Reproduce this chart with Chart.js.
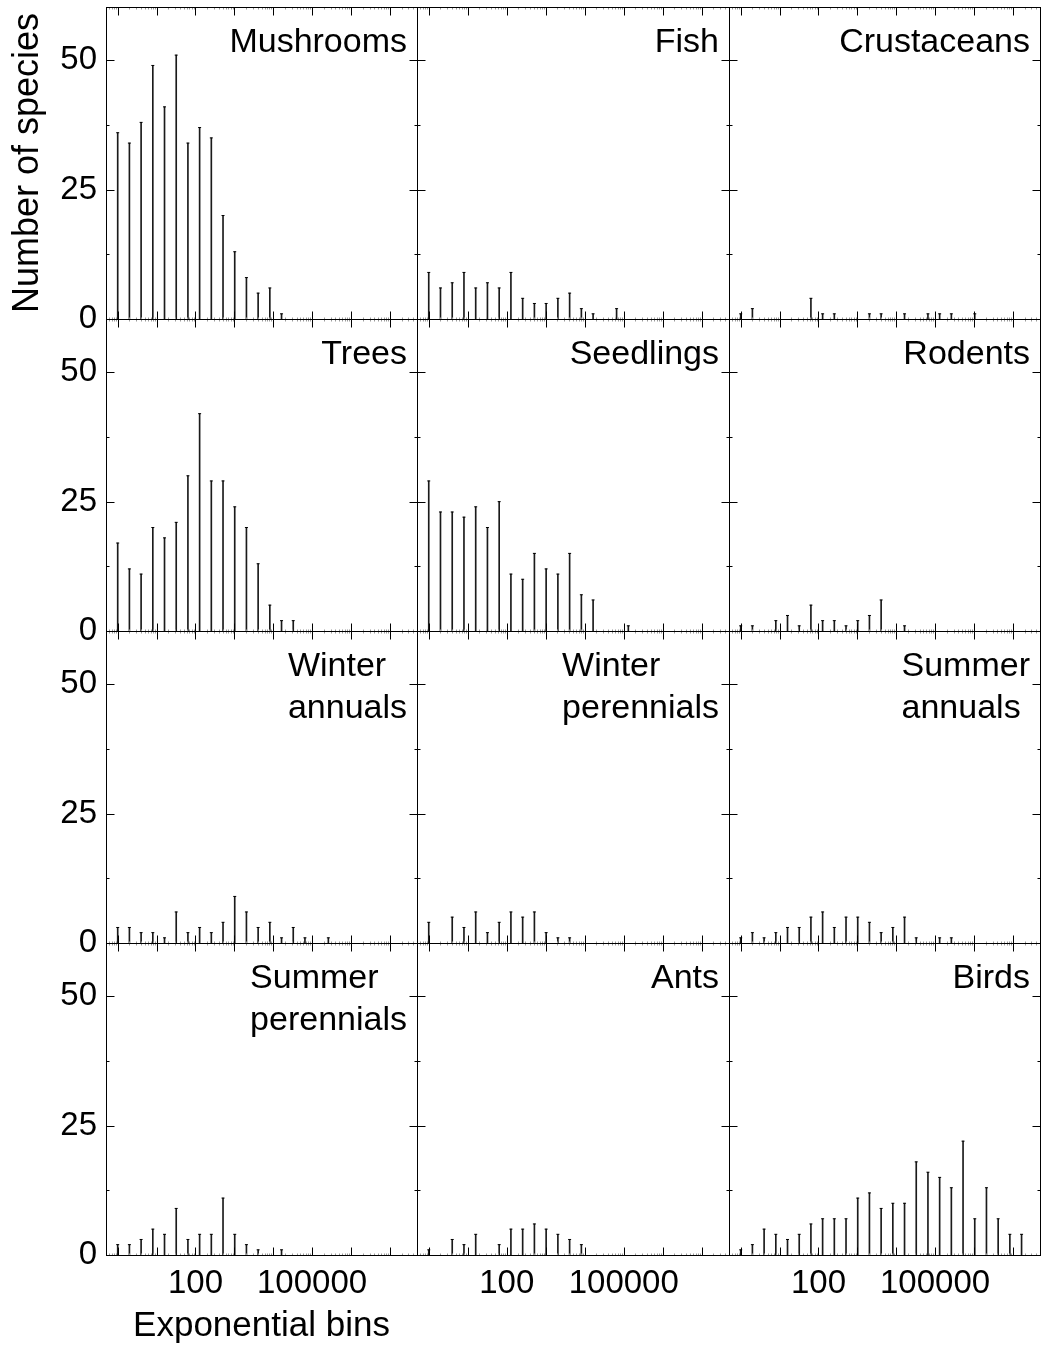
<!DOCTYPE html>
<html><head><meta charset="utf-8">
<script src="https://cdn.jsdelivr.net/npm/chart.js@4.4.1/dist/chart.umd.min.js"></script>
<style>
html,body{margin:0;padding:0;background:#fff;}
body{width:1041px;height:1346px;position:relative;overflow:hidden;}
canvas{position:absolute;}
</style></head><body>
<script>
// Exponential bins (powers of two)
const bins = [1,2,4,8,16,32,64,128,256,512,1024,2048,4096,8192,16384,32768,65536,131072,262144,524288,1048576,2097152,4194304,8388608,16777216];

// Number of species per bin, index = bin position
const mushrooms        = [36,34,38,49,41,51,34,37,35,20,13,8,5,6,1];
const fish             = [9,6,7,9,6,7,6,9,4,3,3,4,5,2,1,0,2];
const crustaceans      = [1,2,0,0,0,0,4,1,1,0,0,1,1,0,1,0,1,1,1,0,1];
const trees            = [17,12,11,20,18,21,30,42,29,29,24,20,13,5,2,2];
const seedlings        = [29,23,23,22,24,20,25,11,10,15,12,11,15,7,6,0,0,1];
const rodents          = [1,1,0,2,3,1,5,2,2,1,2,3,6,0,1];
const winterAnnuals    = [3,3,2,2,1,6,2,3,2,4,9,6,3,4,1,3,1,0,1];
const winterPerennials = [4,0,5,3,6,2,4,6,5,6,2,1,1];
const summerAnnuals    = [1,2,1,2,3,3,5,6,3,5,5,4,2,3,5,1,0,1,1];
const summerPerennials = [2,2,3,5,4,9,3,4,4,11,4,2,1,0,1];
const ants             = [1,0,3,2,4,0,2,5,5,6,5,4,3,2];
const birds            = [1,2,5,4,3,4,6,7,7,7,11,12,9,10,10,18,16,15,13,22,7,13,7,4,4];

const panelSeries = [mushrooms, fish, crustaceans, trees, seedlings, rodents,
                     winterAnnuals, winterPerennials, summerAnnuals, summerPerennials, ants, birds];
const panelNames = [['Mushrooms'],['Fish'],['Crustaceans'],['Trees'],['Seedlings'],['Rodents'],
                    ['Winter','annuals'],['Winter','perennials'],['Summer','annuals'],
                    ['Summer','perennials'],['Ants'],['Birds']];

const xTickValues = [1,10,100,1000,10000,100000,1000000,10000000];
const xTickLabels = {100:'100', 100000:'100000'};
const yTickValues = [0,12.5,25,37.5,50];
const yTickLabels = {0:'0', 25:'25', 50:'50'};
const yAxisTitle = 'Number of species';
const xAxisTitle = 'Exponential bins';

const FONT = '"Liberation Sans", Arial, sans-serif';
const colLeft = [106, 417, 729];
const colWidth = [311, 312, 311];
const rowTop = [7, 319, 631, 943];
const rowHeight = 312;

const framePlugin = {
  id: 'frame',
  afterDraw(chart, args, opts) {
    const {ctx, chartArea} = chart;
    const xs = chart.scales.x, ys = chart.scales.y;
    const l = Math.round(chartArea.left) + 0.5, r = Math.round(chartArea.right) + 0.5;
    const t = Math.round(chartArea.top) + 0.5, b = Math.round(chartArea.bottom) + 0.5;
    ctx.save();
    ctx.lineWidth = 1;
    // minor log ticks (faint)
    ctx.strokeStyle = '#9a9a9a';
    ctx.beginPath();
    for (let e = -1; e <= 7; e++) {
      for (let m = 2; m <= 9; m++) {
        const v = m * Math.pow(10, e);
        if (v < xs.min || v > xs.max) continue;
        const p = Math.round(xs.getPixelForValue(v)) + 0.5;
        ctx.moveTo(p, b); ctx.lineTo(p, b - 2);
        ctx.moveTo(p, t); ctx.lineTo(p, t + 2);
      }
    }
    ctx.stroke();
    ctx.strokeStyle = '#000';
    ctx.beginPath();
    xTickValues.forEach(v => {
      const p = Math.round(xs.getPixelForValue(v)) + 0.5;
      ctx.moveTo(p, b); ctx.lineTo(p, b - 8);
      ctx.moveTo(p, t); ctx.lineTo(p, t + 8);
    });
    yTickValues.forEach(v => {
      const p = Math.round(ys.getPixelForValue(v)) + 0.5;
      const len = (v % 25 === 0) ? 8 : 3;
      ctx.moveTo(l, p); ctx.lineTo(l + len, p);
      ctx.moveTo(r, p); ctx.lineTo(r - len, p);
    });
    ctx.stroke();
    ctx.strokeRect(l, t, r - l, b - t);
    const lines = opts.lines || [];
    ctx.fillStyle = '#000';
    ctx.font = '34px ' + FONT;
    ctx.textAlign = 'left';
    ctx.textBaseline = 'alphabetic';
    let maxW = 0;
    lines.forEach(s => { maxW = Math.max(maxW, ctx.measureText(s).width); });
    const x0 = chartArea.right - 10 - maxW;
    lines.forEach((s, i) => ctx.fillText(s, x0, chartArea.top + 45 + i * 42));
    ctx.restore();
  }
};

for (let r = 0; r < 4; r++) {
  for (let c = 0; c < 3; c++) {
    const idx = r * 3 + c;
    const PL = c === 0 ? 106 : 12;
    const PR = 12, PT = 30;
    const PB = r === 3 ? (1346 - (rowTop[3] + rowHeight)) : 30;
    const showY = c === 0, showX = r === 3;
    const cv = document.createElement('canvas');
    const w = colWidth[c] + PL + PR, h = rowHeight + PT + PB;
    cv.width = w; cv.height = h;
    cv.style.width = w + 'px'; cv.style.height = h + 'px';
    cv.style.left = (colLeft[c] - PL) + 'px';
    cv.style.top = (rowTop[r] - PT) + 'px';
    document.body.appendChild(cv);

    const series = panelSeries[idx];
    const pts = [];
    series.forEach((v, k) => { if (v > 0) pts.push({x: bins[k], y: v}); });

    new Chart(cv.getContext('2d'), {
      type: 'bar',
      data: {
        datasets: [
          {type: 'bar', data: pts, backgroundColor: '#1a1a1a', borderWidth: 0, barThickness: 1, order: 2},
          {type: 'line', data: pts, showLine: false, pointStyle: 'line', pointRadius: 1.5,
           pointBorderColor: '#000', pointBorderWidth: 1, pointBackgroundColor: '#000', order: 1}
        ]
      },
      options: {
        responsive: false,
        animation: false,
        devicePixelRatio: 1,
        layout: {padding: {left: showY ? 0 : PL, right: PR, top: PT, bottom: showX ? 0 : PB}},
        plugins: {legend: {display: false}, tooltip: {enabled: false}, frame: {lines: panelNames[idx]}},
        scales: {
          x: {
            type: 'logarithmic', min: 0.5, max: 50000000, offset: false,
            display: showX,
            grid: {display: false, drawTicks: false, offset: false},
            border: {display: false},
            afterBuildTicks: s => { s.ticks = xTickValues.map(v => ({value: v})); },
            afterFit: s => { s.height = showX ? PB : 0; },
            ticks: {autoSkip: false, maxRotation: 0, padding: 9, color: '#000',
                    font: {family: FONT, size: 33},
                    callback: v => xTickLabels[v] || ''},
            title: {display: showX && c === 0, text: xAxisTitle, color: '#000',
                    font: {family: FONT, size: 35, lineHeight: 1.1}, padding: {top: 0, bottom: 0}}
          },
          y: {
            type: 'linear', min: 0, max: 60.3,
            display: showY,
            grid: {display: false, drawTicks: false},
            border: {display: false},
            afterBuildTicks: s => { s.ticks = yTickValues.map(v => ({value: v})); },
            afterFit: s => { s.width = showY ? PL : 0; },
            ticks: {autoSkip: false, padding: 9, color: '#000',
                    font: {family: FONT, size: 33},
                    callback: v => (yTickLabels[v] !== undefined ? yTickLabels[v] : '')},
            title: {display: r === 0 && c === 0, text: yAxisTitle, color: '#000',
                    font: {family: FONT, size: 36, lineHeight: 1.1}, padding: {top: 8, bottom: 0}}
          }
        }
      },
      plugins: [framePlugin]
    });
  }
}
</script>
</body></html>
